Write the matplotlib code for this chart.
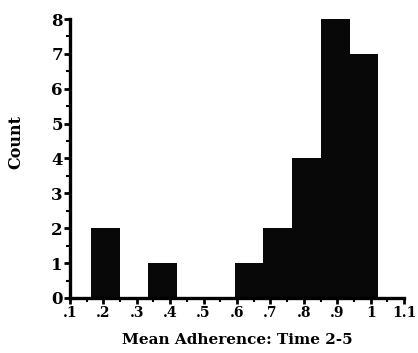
import matplotlib
matplotlib.use("Agg")
import matplotlib.pyplot as plt
import numpy as np

# Data
bin_edges = [0.163, 0.249, 0.335, 0.421, 0.507, 0.593, 0.679, 0.765, 0.851, 0.937, 1.023]
counts = [2, 0, 1, 0, 0, 1, 2, 4, 8, 7]
x_ticks = [0.1, 0.2, 0.3, 0.4, 0.5, 0.6, 0.7, 0.8, 0.9, 1.0, 1.1]
x_tick_labels = [".1", ".2", ".3", ".4", ".5", ".6", ".7", ".8", ".9", "1", "1.1"]
y_ticks = [0, 1, 2, 3, 4, 5, 6, 7, 8]
x_label = "Mean Adherence: Time 2-5"
y_label = "Count"

plt.rcParams['font.family'] = ['DejaVu Serif']
plt.rcParams['font.weight'] = 'bold'

fig = plt.figure(figsize=(4.18, 3.53), dpi=100)
ax = fig.add_axes([0.167, 0.156, 0.8, 0.79])

lefts = bin_edges[:-1]
widths = np.diff(bin_edges)
ax.bar(lefts, counts, width=widths, align='edge', color='#080808', edgecolor='none', linewidth=0)

ax.set_xlim(0.1, 1.1)
ax.set_ylim(0, 8)
ax.spines['top'].set_visible(False)
ax.spines['right'].set_visible(False)
ax.spines['left'].set_linewidth(2.4)
ax.spines['bottom'].set_linewidth(2.4)

ax.set_xticks(x_ticks)
ax.set_xticklabels(x_tick_labels)
ax.set_xticks(np.arange(0.15, 1.1, 0.1), minor=True)
ax.set_yticks(y_ticks)
ax.set_yticks(np.arange(0.5, 8, 1), minor=True)
ax.tick_params(axis='both', which='major', length=4, width=2, pad=2)
ax.tick_params(axis='x', which='major', labelsize=10)
ax.tick_params(axis='y', which='major', labelsize=12, pad=1)
ax.tick_params(axis='both', which='minor', length=3, width=1.5)
for lab in ax.get_xticklabels() + ax.get_yticklabels():
    lab.set_fontweight('bold')

ax.set_xlabel(x_label, fontsize=11, fontweight='bold', labelpad=9)
ax.set_ylabel(y_label, fontsize=11.5, fontweight='bold')
ax.yaxis.set_label_coords(-0.135, 0.56)

fig.savefig("out.png", dpi=100)
